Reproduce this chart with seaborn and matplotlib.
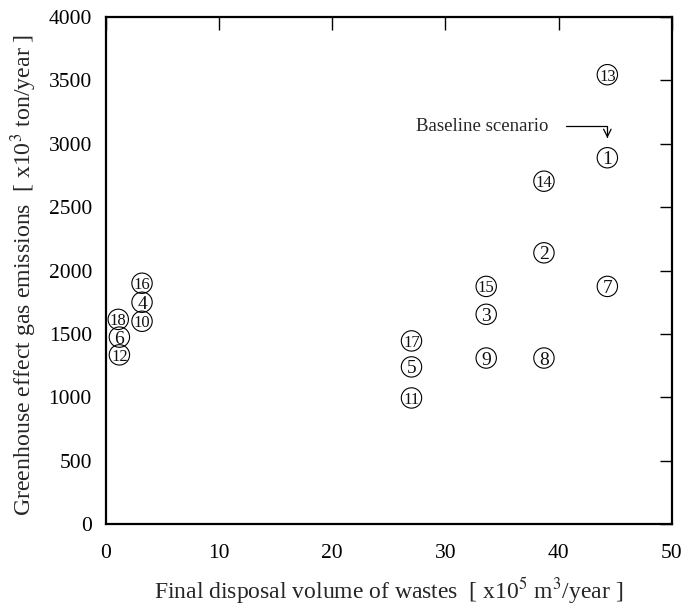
import matplotlib
matplotlib.use("Agg")
import matplotlib.pyplot as plt
import seaborn as sns
import pandas as pd

# Scenario numbers and their outcomes
scenario = [1, 2, 3, 4, 5, 6, 7, 8, 9, 10, 11, 12, 13, 14, 15, 16, 17, 18]
disposal_volume = [44.3, 38.7, 33.6, 3.2, 27.0, 1.2, 44.3, 38.7, 33.6, 3.2,
                   27.0, 1.2, 44.3, 38.7, 33.6, 3.2, 27.0, 1.1]
ghg_emissions = [2890, 2140, 1655, 1750, 1240, 1475, 1875, 1310, 1310, 1600,
                 995, 1335, 3545, 2705, 1875, 1900, 1445, 1615]

x_ticks = [0, 10, 20, 30, 40, 50]
y_ticks = [0, 500, 1000, 1500, 2000, 2500, 3000, 3500, 4000]
baseline_label = "Baseline scenario"
baseline_id = 1

df = pd.DataFrame({"scenario": scenario, "volume": disposal_volume,
                   "emissions": ghg_emissions})

sns.set_style("white")
plt.rcParams["font.family"] = ["Liberation Serif", "DejaVu Serif"]
plt.rcParams["mathtext.fontset"] = "stix"

fig = plt.figure(figsize=(6.87, 6.08), dpi=100)
ax = fig.add_axes([0.154, 0.138, 0.824, 0.834])

sns.scatterplot(data=df, x="volume", y="emissions", ax=ax, marker="o", s=215,
                facecolor="none", edgecolor="black", linewidth=0.8, legend=False)

for sid, xv, yv in zip(df["scenario"], df["volume"], df["emissions"]):
    size = 14 if sid < 10 else 12
    ax.text(xv, yv, str(sid), ha="center", va="center_baseline",
            fontsize=size, color="#111111")

ax.set_xlim(0, 50)
ax.set_ylim(0, 4000)
ax.set_xticks(x_ticks)
ax.set_yticks(y_ticks)

ax.tick_params(axis="both", which="both", direction="in", length=9, width=1,
               top=True, right=True, labelsize=15.5, colors="black")
ax.tick_params(axis="x", pad=14)
ax.tick_params(axis="y", pad=10)
for sp in ax.spines.values():
    sp.set_linewidth(1.6)
    sp.set_color("black")

ax.set_xlabel(r"Final disposal volume of wastes  [ x10$^5$ m$^3$/year ]",
              fontsize=17)
ax.set_ylabel(r"Greenhouse effect gas emissions  [ x10$^3$ ton/year ]",
              fontsize=17.2)
ax.xaxis.set_label_coords(0.5, -0.1)
ax.yaxis.set_label_coords(-0.118, 0.492)

bx = disposal_volume[scenario.index(baseline_id)]
by = ghg_emissions[scenario.index(baseline_id)]
ax.annotate(baseline_label, xy=(bx, by + 155), xytext=(39.05, by + 250),
            ha="right", va="center", fontsize=13.5,
            arrowprops=dict(arrowstyle="->", color="black", lw=0.9,
                            shrinkA=11, shrinkB=0,
                            connectionstyle="angle,angleA=0,angleB=90,rad=0"))

fig.savefig("out.png", dpi=100)
